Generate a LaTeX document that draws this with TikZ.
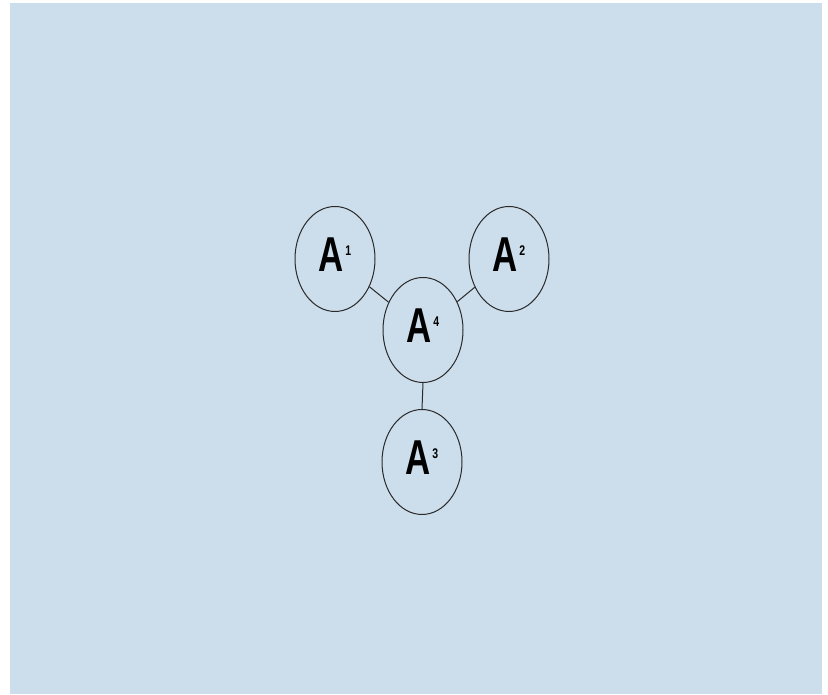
\documentclass[tikz,border=0pt]{standalone}
\usepackage{fontspec}
\setmainfont{Liberation Sans}
\usetikzlibrary{shapes.geometric}
\definecolor{bgblue}{HTML}{CCDDEB}
\definecolor{edge}{HTML}{2A2A2A}
\newcommand{\alab}[1]{\raisebox{-13pt}[0pt][0pt]{\scalebox{0.71}[1]{\fontsize{49}{49}\selectfont\bfseries A}\hspace{1.5pt}\raisebox{16pt}{\scalebox{0.75}[1]{\fontsize{14}{14}\selectfont\bfseries #1}}}}
\tikzset{
  anode/.style={ellipse, draw=edge, line width=1pt, minimum width=80pt, minimum height=105pt, inner sep=0pt},
  link/.style={draw=edge, line width=1pt}
}
\begin{document}
\begin{tikzpicture}[x=1pt,y=1pt]
\useasboundingbox (0,0) rectangle (828,695);
\fill[white] (0,0) rectangle (828,695);
\fill[bgblue] (10,1) rectangle (822,692);
\node[anode] (a1) at (335,436) {\alab{1}};
\node[anode] (a2) at (509,436) {\alab{2}};
\node[anode] (a4) at (423,365) {\alab{4}};
\node[anode] (a3) at (422,233) {\alab{3}};
\draw[link] (a1) -- (a4);
\draw[link] (a2) -- (a4);
\draw[link] (a4.south) -- (a3.north);
\end{tikzpicture}
\end{document}
